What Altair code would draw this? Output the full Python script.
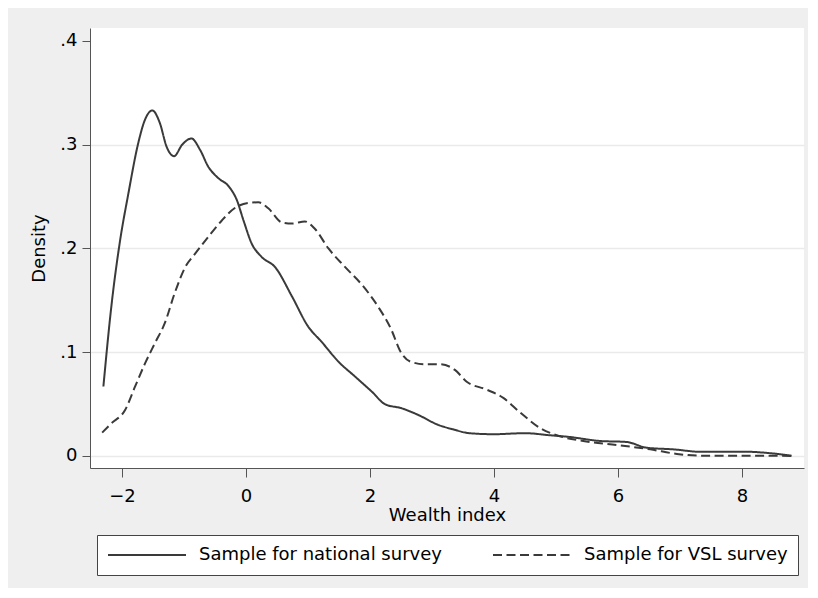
import altair as alt
import pandas as pd

# ---- data ----
series_names = ["Sample for national survey", "Sample for VSL survey"]

national_x = [-2.30, -2.17, -2.03, -1.90, -1.74, -1.63, -1.51, -1.39, -1.28, -1.16,
              -1.03, -0.88, -0.74, -0.61, -0.45, -0.28, -0.15, -0.04, 0.09, 0.25,
              0.47, 0.74, 1.00, 1.22, 1.49, 1.76, 2.03, 2.24, 2.51, 2.78,
              3.10, 3.34, 3.60, 4.00, 4.50, 4.90, 5.18, 5.71, 6.14, 6.46,
              6.89, 7.35, 8.02, 8.40, 8.80]
national_y = [0.067, 0.145, 0.208, 0.252, 0.301, 0.324, 0.333, 0.321, 0.298, 0.289,
              0.300, 0.306, 0.295, 0.279, 0.268, 0.260, 0.247, 0.227, 0.205, 0.192,
              0.182, 0.154, 0.125, 0.110, 0.091, 0.0765, 0.062, 0.050, 0.046, 0.0395,
              0.030, 0.0257, 0.022, 0.021, 0.022, 0.020, 0.0186, 0.0145, 0.0135, 0.008,
              0.0064, 0.004, 0.0042, 0.003, 0.0003]

vsl_x = [-2.32, -2.17, -1.95, -1.79, -1.63, -1.47, -1.31, -1.15, -0.98, -0.82,
         -0.61, -0.39, -0.18, 0.04, 0.20, 0.36, 0.58, 0.74, 0.95, 1.11,
         1.33, 1.60, 1.87, 2.13, 2.35, 2.48, 2.65, 2.89, 3.13, 3.37,
         3.56, 3.88, 4.15, 4.42, 4.77, 5.01, 5.44, 5.98, 6.52, 6.95,
         7.32, 8.00, 8.80]
vsl_y = [0.0225, 0.0315, 0.0443, 0.0668, 0.089, 0.1086, 0.128, 0.157, 0.182, 0.195,
         0.211, 0.227, 0.239, 0.244, 0.2445, 0.2387, 0.225, 0.224, 0.226, 0.219,
         0.200, 0.182, 0.165, 0.144, 0.121, 0.102, 0.091, 0.0884, 0.0884, 0.083,
         0.0716, 0.064, 0.056, 0.042, 0.026, 0.020, 0.0145, 0.0106, 0.0064, 0.002,
         0.0003, 0.0002, 0.0001]

x_ticks = [-2, 0, 2, 4, 6, 8]
y_ticks = [0, 0.1, 0.2, 0.3, 0.4]

df = pd.concat([
    pd.DataFrame({"x": national_x, "y": national_y, "series": series_names[0],
                  "order": list(range(len(national_x)))}),
    pd.DataFrame({"x": vsl_x, "y": vsl_y, "series": series_names[1],
                  "order": list(range(len(vsl_x)))}),
], ignore_index=True)

FONT = "DejaVu Sans"
AXIS_COL = "#555555"
LINE_COL = "#3a3a3a"

xs = alt.Scale(domain=[-2.516, 9.0], nice=False, zero=False)
ys = alt.Scale(domain=[-0.01157, 0.4125], nice=False, zero=False)

chart = alt.Chart(df).mark_line(
    color=LINE_COL, strokeWidth=2, interpolate="monotone"
).encode(
    x=alt.X("x:Q", scale=xs, axis=alt.Axis(
        values=x_ticks, title="Wealth index", grid=False,
        domainColor=AXIS_COL, tickColor=AXIS_COL, tickSize=9,
        labelFont=FONT, labelFontSize=18, labelColor="black",
        labelBaseline="alphabetic", labelPadding=24,
        titleFont=FONT, titleFontSize=18, titleFontWeight="normal", titleColor="black",
        titleX=357, titleY=52, titleBaseline="alphabetic", titleAlign="center",
    )),
    y=alt.Y("y:Q", scale=ys, axis=alt.Axis(
        values=y_ticks, title="Density",
        labelExpr="datum.value == 0 ? '0' : replace(format(datum.value, '.1f'), '0.', '.')",
        grid=True, gridColor="#EAEAEA", gridWidth=1.5,
        gridOpacity={"condition": {"test": "datum.value > 0.35", "value": 0}, "value": 1},
        domainColor=AXIS_COL, tickColor=AXIS_COL, tickSize=8,
        labelFont=FONT, labelFontSize=18, labelColor="black", labelPadding=5,
        titleFont=FONT, titleFontSize=18, titleFontWeight="normal", titleColor="black",
        titleX=-46, titleY=220, titleAngle=270, titleBaseline="alphabetic",
        titleAlign="center",
    )),
    strokeDash=alt.StrokeDash("series:N", scale=alt.Scale(
        domain=series_names, range=[[1, 0], [9, 4.5]]),
        legend=alt.Legend(
            title=None, orient="none", legendX=7, legendY=507,
            direction="horizontal", columns=2, gridAlign="each",
            columnPadding=50, padding=10, strokeColor="#444444",
            fillColor="white", symbolType="stroke", symbolSize=6084,
            symbolStrokeWidth=2, symbolStrokeColor=LINE_COL,
            labelFont=FONT, labelFontSize=18, labelColor="black",
            labelOffset=12, labelLimit=400, clipHeight=20, symbolOffset=0,
        )),
    order="order:Q",
).properties(
    width=714, height=440,
    autosize=alt.AutoSizeParams(type="none"),
    padding={"left": 82, "top": 20, "right": 4, "bottom": 120},
    background="#EFEFEF",
).configure_view(stroke=None, fill="white")

chart.save("out.html", embed_options={"renderer": "svg", "actions": False})
